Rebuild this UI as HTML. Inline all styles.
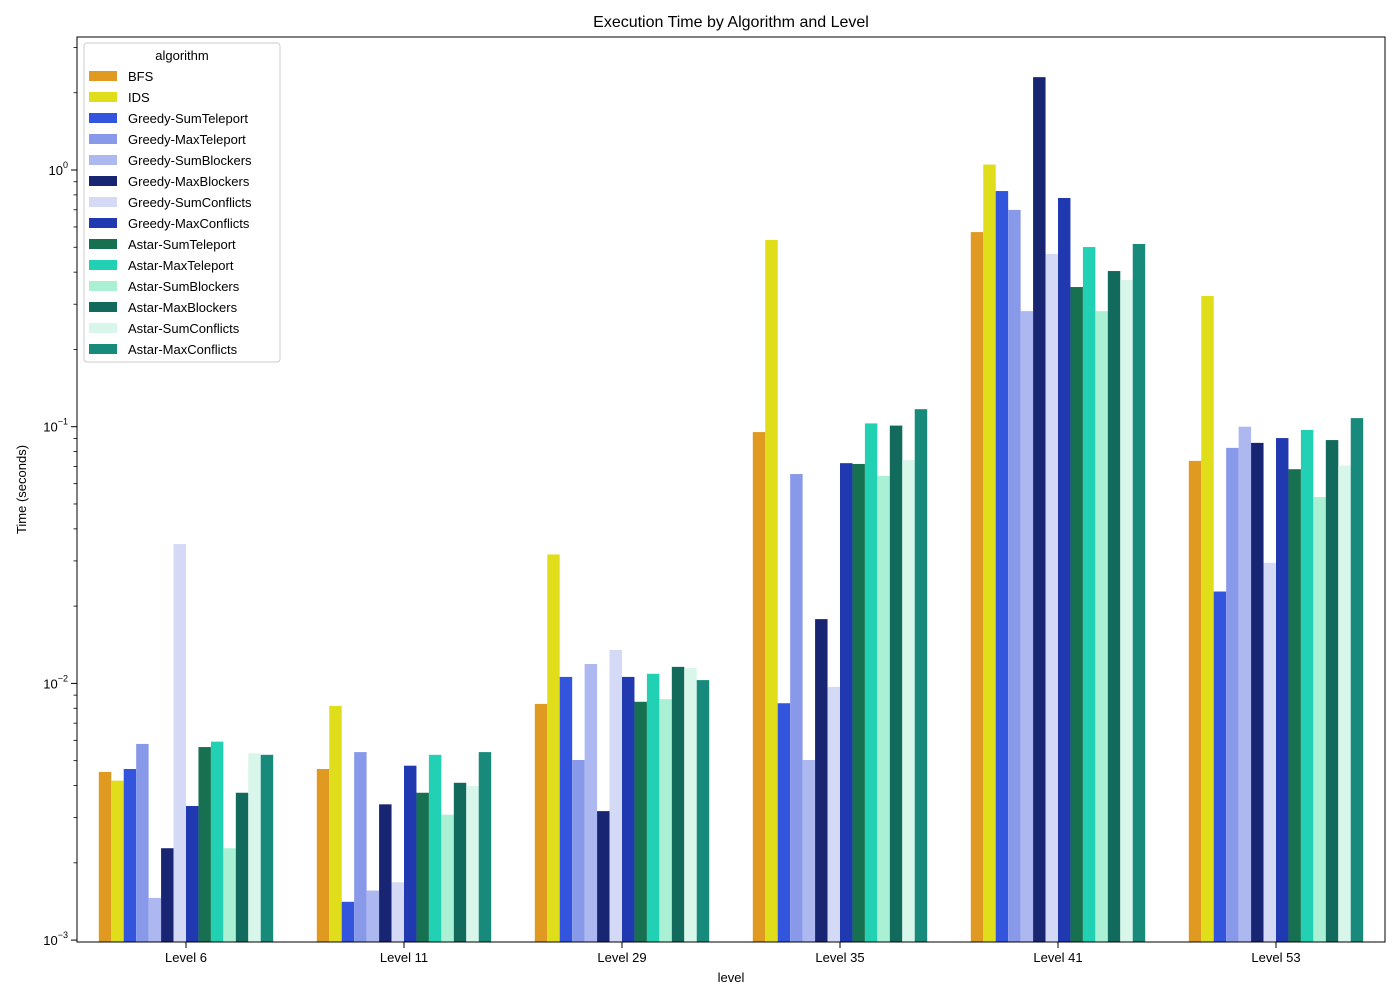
<!DOCTYPE html>
<html><head><meta charset="utf-8"><style>body{margin:0;background:#fff}svg{font-family:"Liberation Sans","DejaVu Sans",sans-serif}</style></head>
<body>
<svg id="chart" width="1400" height="1000" xmlns="http://www.w3.org/2000/svg"></svg>
<script>
const levels=["Level 6","Level 11","Level 29","Level 35","Level 41","Level 53"];
const algorithms=["BFS","IDS","Greedy-SumTeleport","Greedy-MaxTeleport","Greedy-SumBlockers","Greedy-MaxBlockers","Greedy-SumConflicts","Greedy-MaxConflicts","Astar-SumTeleport","Astar-MaxTeleport","Astar-SumBlockers","Astar-MaxBlockers","Astar-SumConflicts","Astar-MaxConflicts"];
const colors=["#e09a22","#e0dd1a","#3355dd","#8799e8","#adb8f0","#172572","#d4daf5","#2038b0","#177050","#22d0b4","#aaf0d4","#116a5c","#d8f6ea","#178a7c"];
const vLevel6=[0.00452,0.00418,0.00464,0.00581,0.00146,0.00228,0.0349,0.00333,0.00565,0.00593,0.00228,0.00375,0.00534,0.00527];
const vLevel11=[0.00464,0.00817,0.00141,0.0054,0.00156,0.00338,0.00168,0.00478,0.00375,0.00527,0.00308,0.0041,0.00398,0.0054];
const vLevel29=[0.00832,0.0318,0.0106,0.00503,0.0119,0.00318,0.0135,0.0106,0.00848,0.0109,0.00868,0.0116,0.0115,0.0103];
const vLevel35=[0.0953,0.534,0.00837,0.0654,0.00503,0.0178,0.00969,0.0721,0.0716,0.103,0.0643,0.101,0.0742,0.117];
const vLevel41=[0.573,1.05,0.828,0.699,0.282,2.30,0.471,0.778,0.350,0.501,0.282,0.404,0.373,0.515];
const vLevel53=[0.0736,0.323,0.0228,0.0827,0.1,0.0865,0.0295,0.0903,0.0683,0.0971,0.0532,0.0887,0.0706,0.108];
const values=[vLevel6,vLevel11,vLevel29,vLevel35,vLevel41,vLevel53];
const yTickExps=[-3,-2,-1,0];

const svg=document.getElementById('chart');const NS="http://www.w3.org/2000/svg";
function el(t,a,p){const e=document.createElementNS(NS,t);for(const k in a)e.setAttribute(k,a[k]);(p||svg).appendChild(e);return e;}
const L=77,R=1385,T=37,B=942;
const ppd=256.7,y0=170;
function yS(v){return y0-Math.log10(v)*ppd;}
const gw=(R-L)/levels.length;
function xC(i){return L+gw*(i+0.5);}
const bw=gw*0.8/algorithms.length;

const bars=el('g',{});

values.forEach((arr,gi)=>{arr.forEach((v,ai)=>{
  const x=xC(gi)-gw*0.4+ai*bw;const y=yS(v);
  const r=el('rect',{x:x,y:y,width:bw,height:B-y,fill:colors[ai]},bars);
  
  
});});

const frame=el('rect',{x:L,y:T,width:R-L,height:B-T,fill:'none',stroke:'#000','stroke-width':1});


// y ticks
yTickExps.forEach(e=>{const y=yS(Math.pow(10,e));
  el('line',{x1:L-6,x2:L,y1:y,y2:y,stroke:'#000'});
  const t=el('text',{x:L-9,y:y+5,'text-anchor':'end','font-size':13});
  
  t.innerHTML='10<tspan dy="-7" font-size="9">'+(e<0?'\u2212'+(-e):e)+'</tspan>';
});
for(let e=-3;e<=0;e++){for(let m=2;m<=9;m++){const v=m*Math.pow(10,e);const y=yS(v);if(y<T||y>B)continue;el('line',{x1:L-3.5,x2:L,y1:y,y2:y,stroke:'#000','stroke-width':0.8});}}
// x ticks
levels.forEach((lv,i)=>{const x=xC(i);el('line',{x1:x,x2:x,y1:B,y2:B+6,stroke:'#000'});
  const t=el('text',{x:x,y:B+20,'text-anchor':'middle','font-size':13});t.textContent=lv;
  });

let t=el('text',{x:(L+R)/2,y:27,'text-anchor':'middle','font-size':16});t.textContent='Execution Time by Algorithm and Level';

t=el('text',{x:(L+R)/2,y:982,'text-anchor':'middle','font-size':13});t.textContent='level';

t=el('text',{x:26,y:(T+B)/2,'text-anchor':'middle','font-size':13,transform:'rotate(-90 26 '+((T+B)/2)+')'});t.textContent='Time (seconds)';


// legend
const lg=el('g',{});
el('rect',{x:84,y:43,width:196,height:319,rx:3,fill:'#fff','fill-opacity':0.8,stroke:'#ccc'},lg);
t=el('text',{x:182,y:60,'text-anchor':'middle','font-size':13},lg);t.textContent='algorithm';

algorithms.forEach((a,i)=>{const y=76+i*21;
  const g=el('g',{},lg);
  el('rect',{x:89,y:y-5,width:28,height:10,fill:colors[i]},g);
  const tx=el('text',{x:128,y:y+5,'font-size':13},g);tx.textContent=a;});
</script>
</body></html>
